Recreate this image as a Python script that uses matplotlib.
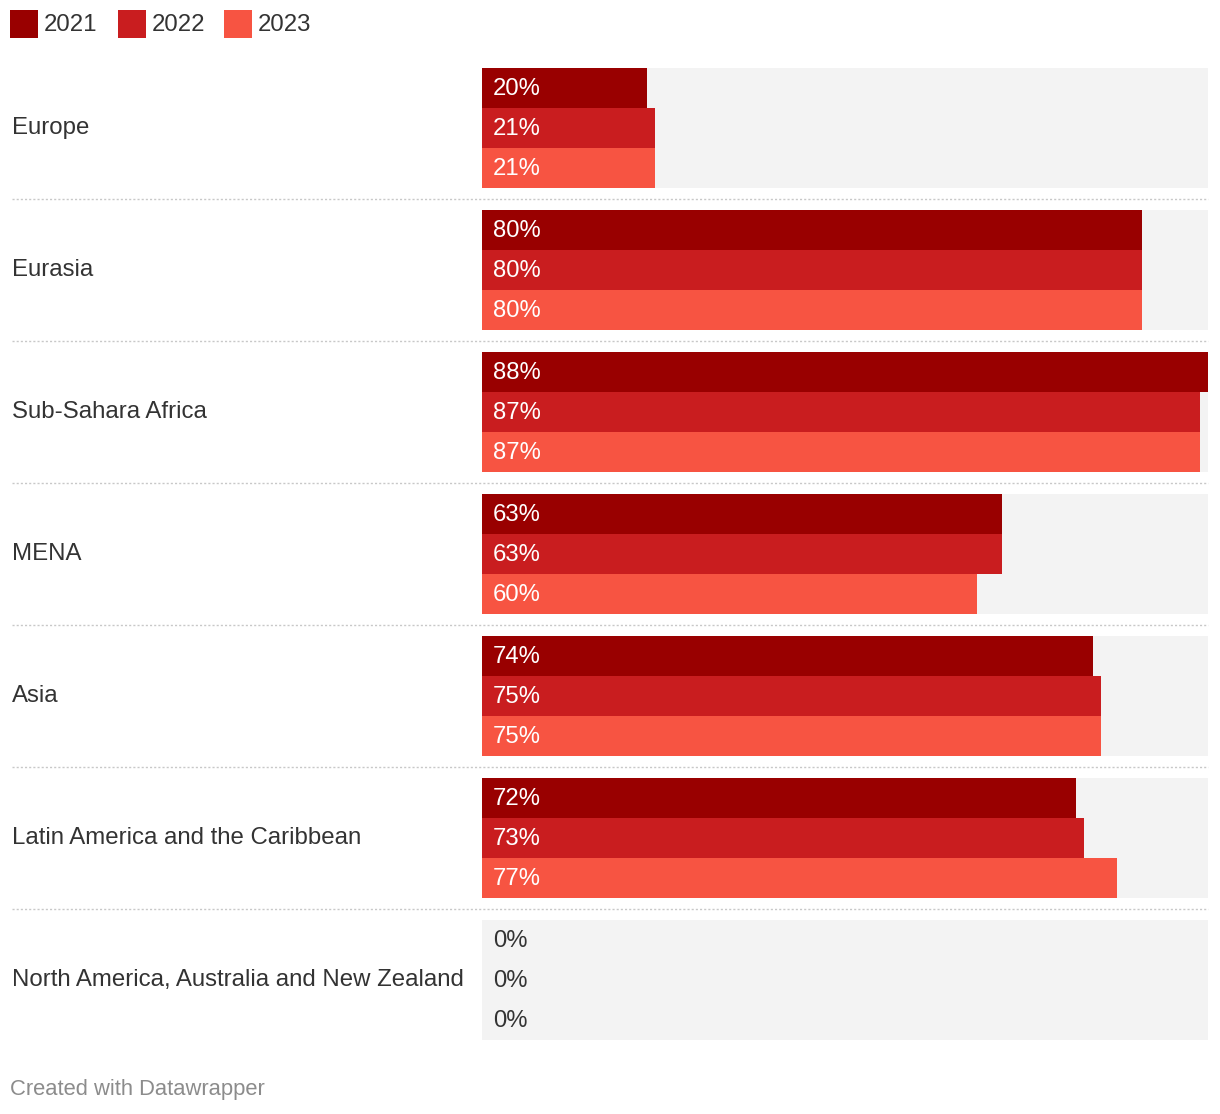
import matplotlib.pyplot as plt
from matplotlib.patches import Rectangle
from matplotlib.transforms import blended_transform_factory

plt.rcParams['font.family'] = ['Liberation Sans', 'DejaVu Sans']

regions = ["Europe", "Eurasia", "Sub-Sahara Africa", "MENA", "Asia",
           "Latin America and the Caribbean",
           "North America, Australia and New Zealand"]
years = ["2021", "2022", "2023"]
v2021 = [20, 80, 88, 63, 74, 72, 0]
v2022 = [21, 80, 87, 63, 75, 73, 0]
v2023 = [21, 80, 87, 60, 75, 77, 0]
colors = ["#990000", "#c91d1f", "#f75442"]

W, H = 1220, 1114
fig = plt.figure(figsize=(W / 100, H / 100), dpi=100)

# bar panel: x 482..1208 px, y 68..1040 px
ax = fig.add_axes([482 / W, 1 - 1040 / H, 726 / W, 972 / H])
ax.set_xlim(0, max(v2021 + v2022 + v2023))
ax.set_ylim(972, 0)
ax.axis('off')

bar_h = 40
step = 142
xmax = ax.get_xlim()[1]
sep_tr = blended_transform_factory(fig.transFigure, ax.transData)

for i, region in enumerate(regions):
    top = i * step
    ax.add_patch(Rectangle((0, top), xmax, 3 * bar_h, color="#f3f3f3", lw=0))
    for j, vals in enumerate([v2021, v2022, v2023]):
        v = vals[i]
        y = top + j * bar_h
        ax.barh(y + bar_h / 2, v, height=bar_h, color=colors[j], lw=0)
        ax.text(11 * xmax / 726, y + bar_h / 2 + 1, f"{v}%",
                color="white" if v > 0 else "#333333",
                fontsize=17.2, va='center', ha='left')
    # category label
    ax.text(-470 * xmax / 726, top + 1.5 * bar_h, region, fontsize=17.3,
            color="#333333", va='center', ha='left', clip_on=False)
    if i < len(regions) - 1:
        ax.plot([12 / W, 1208 / W], [top + 3 * bar_h + 11] * 2, transform=sep_tr,
                color="#c8c8c8", lw=1, ls=(0, (1.5, 1.5)), clip_on=False)

# legend
lx = [10, 118, 224]
for k, yr in enumerate(years):
    fig.patches.append(Rectangle((lx[k] / W, 1 - 38 / H), 28 / W, 28 / H,
                                 transform=fig.transFigure, color=colors[k], lw=0))
    fig.text((lx[k] + 34) / W, 1 - 25 / H, yr, fontsize=17.3, color="#333333",
             va='center', ha='left')

fig.text(10 / W, 1 - 1089 / H, "Created with Datawrapper", fontsize=15.8,
         color="#8c8c8c", va='center', ha='left')

fig.savefig("out.png", dpi=100, facecolor="white")
